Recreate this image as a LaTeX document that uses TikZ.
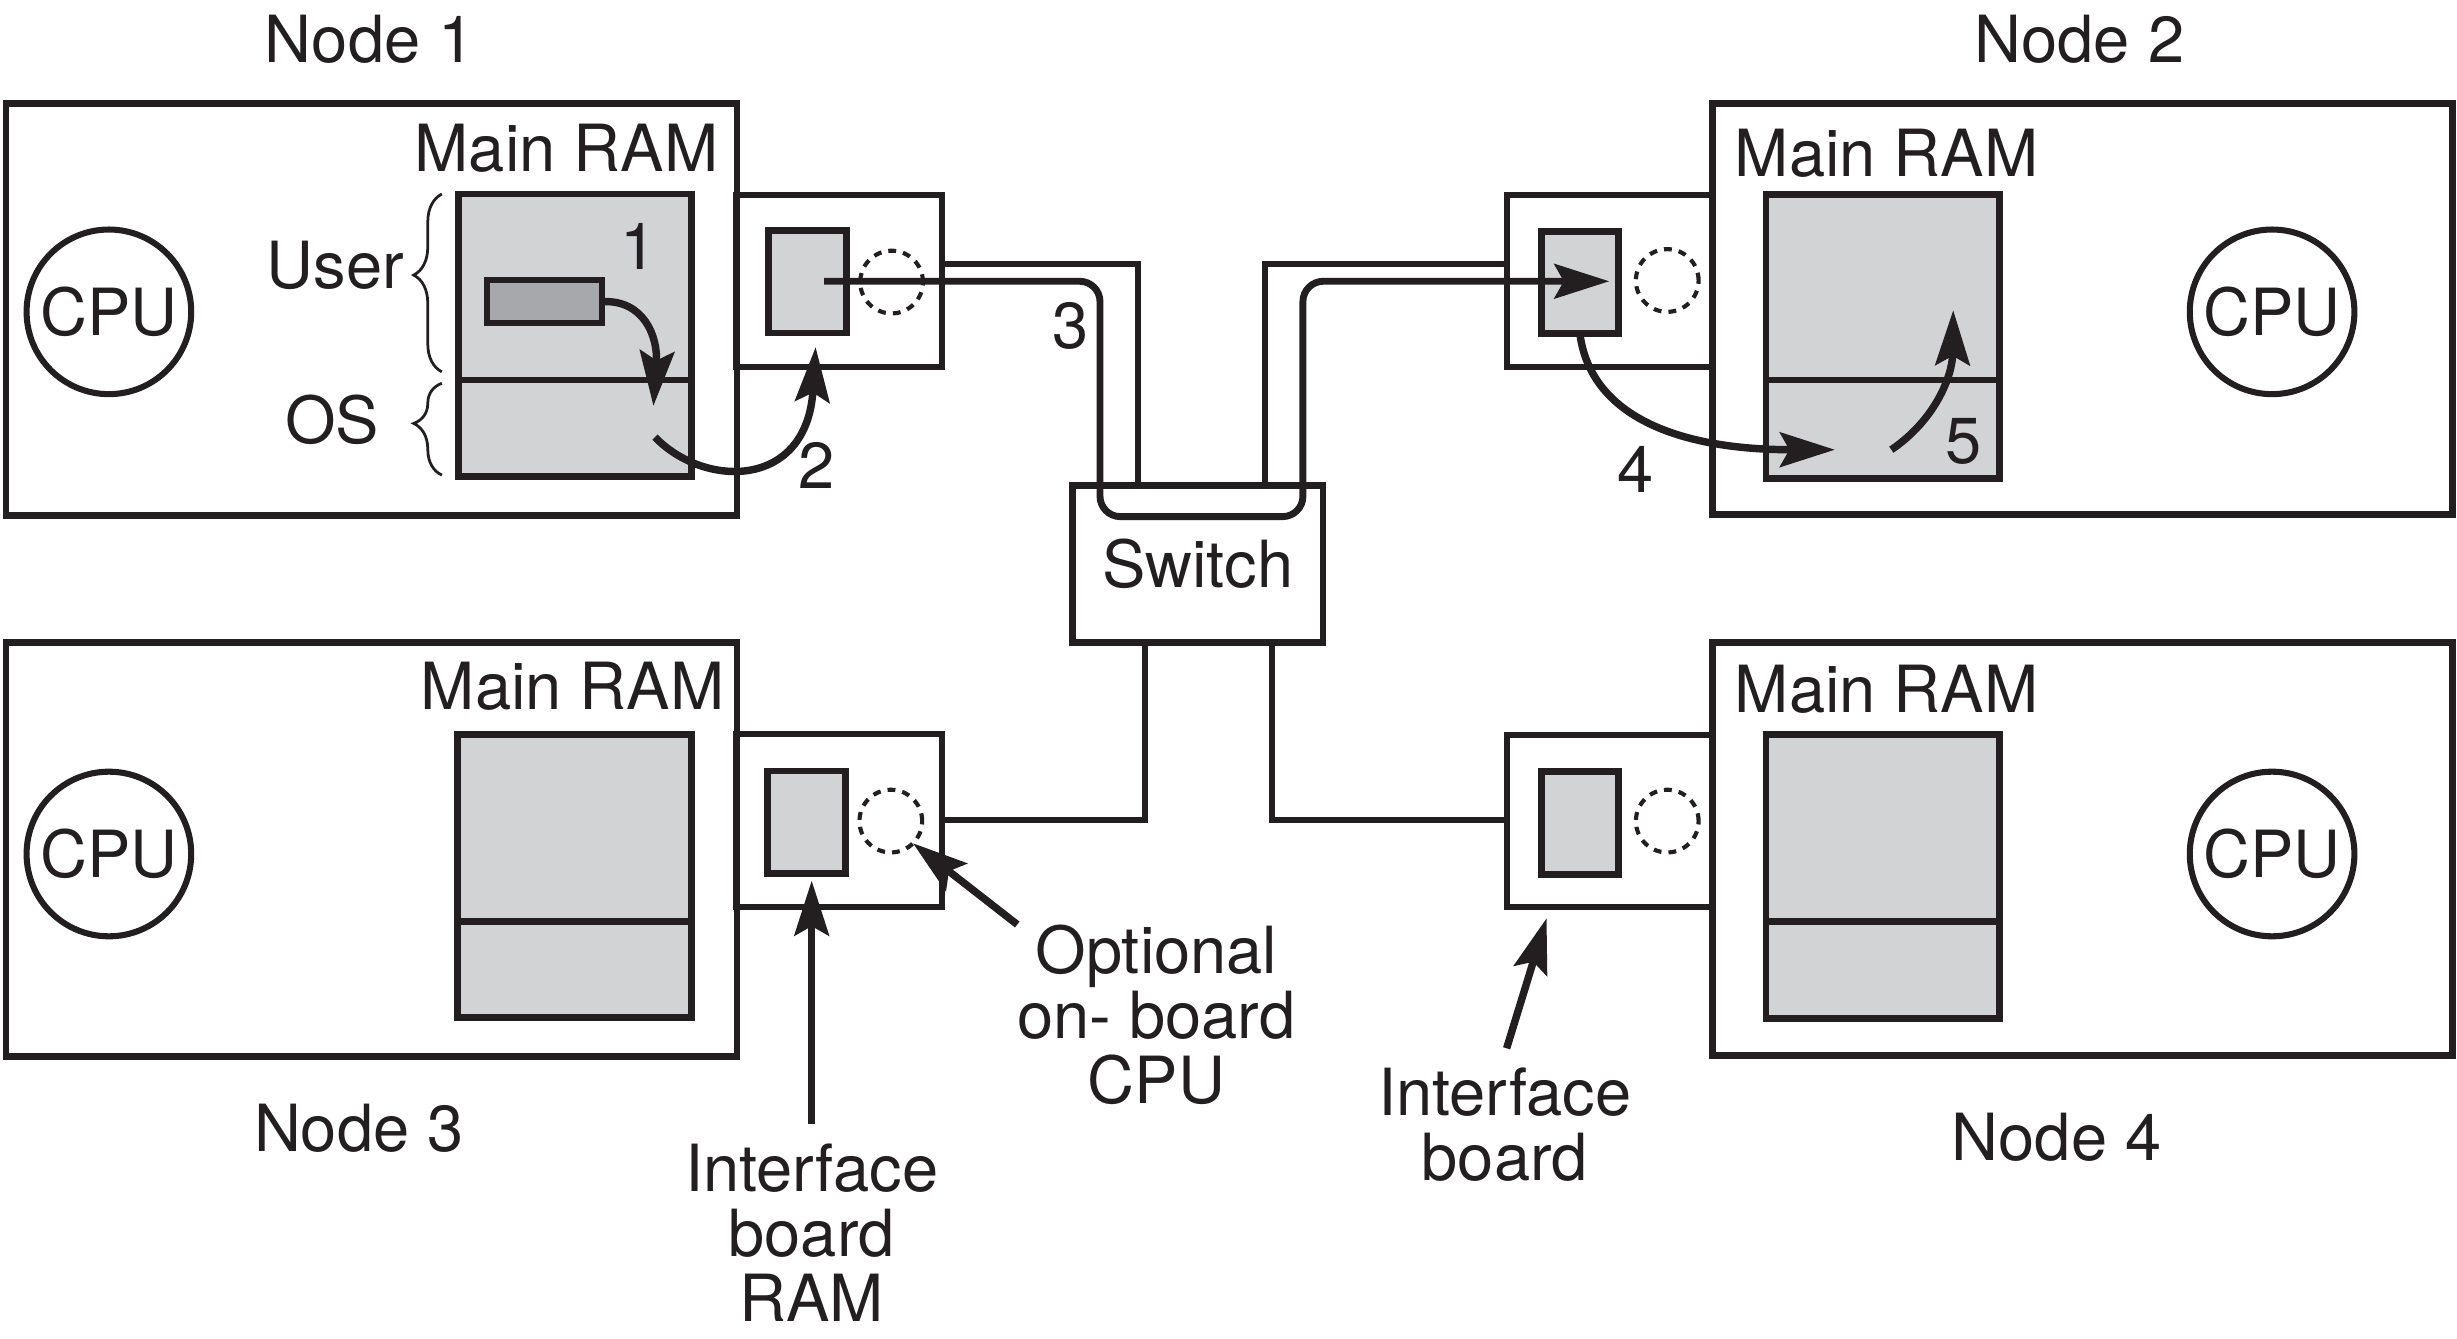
\documentclass[tikz,border=0pt]{standalone}
\usepackage{fontspec}
\setmainfont{TeX Gyre Heros}
\usetikzlibrary{arrows.meta,decorations.pathreplacing}
\definecolor{ink}{RGB}{35,31,32}
\definecolor{ramgray}{RGB}{209,211,212}
\definecolor{blockgray}{RGB}{166,168,171}
\begin{document}
\begin{tikzpicture}[x=0.01cm,y=-0.01cm,
 every node/.style={inner sep=0pt,outer sep=0pt,text=ink,font=\fontsize{11.8pt}{11.84pt}\selectfont},
 hostbox/.style={draw=ink,line width=1.2pt,anchor=north west},
 board/.style={draw=ink,line width=1.1pt,fill=white,anchor=north west},
 ram/.style={draw=ink,line width=1.25pt,fill=ramgray,anchor=north west},
 ramline/.style={draw=ink,line width=1.25pt},
 cpu/.style={draw=ink,line width=1.1pt,circle,minimum size=1.05cm},
 optcpu/.style={draw=ink,line width=0.75pt,dash pattern=on 0.05cm off 0.045cm,circle,minimum size=0.40cm},
 cable/.style={draw=ink,line width=1.1pt},
 flow/.style={draw=ink,line width=1.35pt,-{Stealth[length=0.35cm,width=0.22cm,inset=0.06cm]}},
 brc/.style={draw=ink,line width=0.5pt,decorate,decoration={brace,amplitude=0.18cm,aspect=#1}},
 lbl/.style={anchor=base},
 ml/.style={anchor=north,align=center},
]
\useasboundingbox[fill=white] (0,0) rectangle (1568,854);

% interface boards
\node[board,minimum width=1.31cm,minimum height=1.095cm] (ib1) at (470,124.5) {};
\node[board,minimum width=1.315cm,minimum height=1.095cm] (ib2) at (961.5,124.5) {};
\node[board,minimum width=1.31cm,minimum height=1.105cm] (ib3) at (470,468.5) {};
\node[board,minimum width=1.315cm,minimum height=1.096cm] (ib4) at (961.5,469) {};

% host boxes
\node[hostbox,minimum width=4.661cm,minimum height=2.627cm] (n1) at (3.9,66) {};
\node[hostbox,minimum width=4.72cm,minimum height=2.62cm] (n2) at (1093,66) {};
\node[hostbox,minimum width=4.661cm,minimum height=2.64cm] (n3) at (3.9,410) {};
\node[hostbox,minimum width=4.72cm,minimum height=2.633cm] (n4) at (1093,410) {};

% main RAM
\node[ram,minimum width=1.485cm,minimum height=1.804cm] (ram1) at (292.5,123.8) {};
\node[ram,minimum width=1.49cm,minimum height=1.81cm] (ram2) at (1127,124) {};
\node[ram,minimum width=1.49cm,minimum height=1.80cm] (ram3) at (292,469) {};
\node[ram,minimum width=1.49cm,minimum height=1.81cm] (ram4) at (1127,469) {};
\draw[ramline] (ram1.west |- 0,242.5) -- (ram1.east |- 0,242.5);
\draw[ramline] (ram2.west |- 0,242.5) -- (ram2.east |- 0,242.5);
\draw[ramline] (ram3.west |- 0,588) -- (ram3.east |- 0,588);
\draw[ramline] (ram4.west |- 0,588) -- (ram4.east |- 0,588);

% interface board RAM
\node[ram,minimum width=0.495cm,minimum height=0.655cm] (ir1) at (490.5,147) {};
\node[ram,minimum width=0.495cm,minimum height=0.655cm] (ir2) at (983.5,147.5) {};
\node[ram,minimum width=0.495cm,minimum height=0.655cm] (ir3) at (490,492) {};
\node[ram,minimum width=0.495cm,minimum height=0.655cm] (ir4) at (983.5,492.5) {};

% user block
\node[draw=ink,line width=1.15pt,fill=blockgray,anchor=north west,minimum width=0.734cm,minimum height=0.276cm] (blk) at (310.6,178.7) {};

% CPUs
\node[cpu] (cpu1) at (69.5,199) {CPU};
\node[cpu] (cpu2) at (1450,199) {CPU};
\node[cpu] (cpu3) at (69.5,545) {CPU};
\node[cpu] (cpu4) at (1450,545) {CPU};

% optional on-board CPUs
\node[optcpu] (oc1) at (569,180) {};
\node[optcpu] (oc2) at (1064,179) {};
\node[optcpu] (oc3) at (568.5,524) {};
\node[optcpu] (oc4) at (1064,524) {};

% switch
\node[draw=ink,line width=1.2pt,anchor=north west,minimum width=1.598cm,minimum height=1.0cm] (sw) at (684.5,310) {Switch};

% cables
\coordinate (c1) at (726.2,168.5);
\coordinate (c2) at (807.3,168.5);
\coordinate (c3) at (730.5,523.4);
\coordinate (c4) at (812,523.4);
\draw[cable] (ib1.east |- c1) -- (c1) -- (c1 |- sw.north);
\draw[cable] (ib2.west |- c2) -- (c2) -- (c2 |- sw.north);
\draw[cable] (c3 |- sw.south) -- (c3) -- (ib3.east |- c3);
\draw[cable] (c4 |- sw.south) -- (c4) -- (ib4.west |- c4);

% message path 3
\coordinate (p3a) at (526,179.5);
\coordinate (p3b) at (1027,179.5);
\draw[flow,line width=1.25pt,rounded corners=0.13cm] (p3a) -- (702,179.5) -- (702,329.7) -- (831.5,329.7) -- (831.5,179.5) -- (p3b);

% arrows 1, 2, 4, 5
\coordinate (t1) at (417,259);
\draw[flow] (blk.east) .. controls (411,191) and (420,215) .. (t1);
\coordinate (s2) at (418,279);
\coordinate (t2) at (520.5,221.5);
\draw[flow] (s2) .. controls (450,312) and (515,312) .. (t2);
\coordinate (t4) at (1171,287);
\draw[flow] (ir2.south) .. controls (1015,265) and (1070,287) .. (t4);
\coordinate (s5) at (1207,287);
\coordinate (t5) at (1246.5,198);
\draw[flow] (s5) .. controls (1235,268) and (1246,240) .. (t5);

% braces
\draw[brc=0.544] (282,237.3) -- (282,123.8);
\draw[brc=0.563] (282,303.2) -- (282,244.6);

% labels
\node[lbl] (ln1) at (236,39.6) {Node 1};
\node[lbl] (ln2) at (1327,39.6) {Node 2};
\node[lbl] (ln3) at (229,734.6) {Node 3};
\node[lbl] (ln4) at (1312.5,740.6) {Node 4};
\node[lbl] (mr1) at (361.5,109.6) {Main RAM};
\node[lbl] (mr2) at (1204,112.6) {Main RAM};
\node[lbl] (mr3) at (365.5,452.6) {Main RAM};
\node[lbl] (mr4) at (1204,454.6) {Main RAM};
\node[lbl] (luser) at (214,184) {User};
\node[lbl] (los) at (212,283) {OS};
\node[lbl] (k1) at (407.4,172) {1};
\node[lbl] (k2) at (521,312) {2};
\node[lbl] (k3) at (683,222.3) {3};
\node[lbl] (k4) at (1044,314) {4};
\node[lbl] (k5) at (1253,296) {5};

\node[ml] (lopt) at (738,590) {Optional\\on- board\\CPU};
\node[ml] (lram) at (518,730) {Interface\\board\\RAM};
\node[ml] (lib) at (960.4,681.5) {Interface\\board};

\coordinate (a1) at (518,717);
\draw[flow] (a1) -- (a1 |- 0,562);
\draw[flow] (lopt.north west) -- (oc3.south east);
\coordinate (a3) at (961.5,669);
\coordinate (a3t) at (987,586);
\draw[flow] (a3) -- (a3t);
\end{tikzpicture}
\end{document}
